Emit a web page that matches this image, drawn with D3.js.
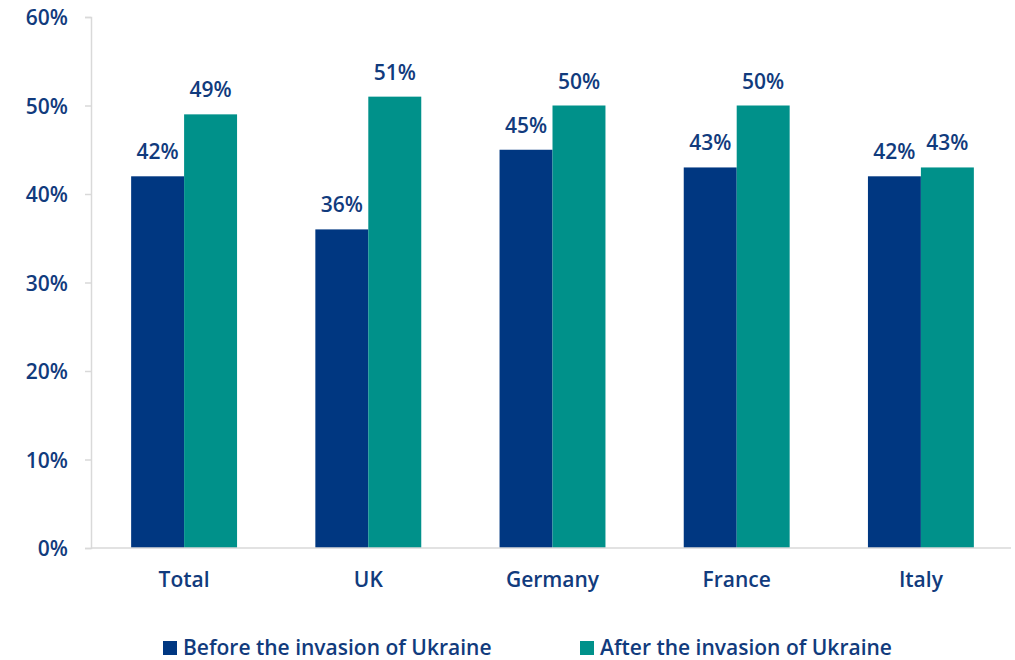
<!DOCTYPE html>
<html>
<head>
<meta charset="utf-8">
<script src="https://cdn.jsdelivr.net/npm/d3@7"></script>
<style>
  body { margin: 0; background: #fff; }
  svg { font-family: "Open Sans", "Noto Sans", sans-serif; font-weight: 600; }
</style>
</head>
<body>
<div id="chart"></div>
<script>
const width = 1015;
const height = 660;

// data
const categories = ["Total", "UK", "Germany", "France", "Italy"];
const series = ["Before the invasion of Ukraine", "After the invasion of Ukraine"];
const before = [42, 36, 45, 43, 42];
const after = [49, 51, 50, 50, 43];
const yTicks = [0, 10, 20, 30, 40, 50, 60];

const colors = ["#003781", "#00918a"];
const textColor = "#113b7d";
const fontSize = "21px";

const rows = categories.map((c, i) => ({ cat: c, values: [before[i], after[i]] }));

const x = d3.scaleBand()
  .domain(categories)
  .range([92, 1013])
  .paddingInner(0.425)
  .paddingOuter(0.2125);

const xs = d3.scaleBand()
  .domain(d3.range(series.length))
  .range([0, x.bandwidth()]);

const y = d3.scaleLinear()
  .domain([0, 60])
  .range([548, 17]);

const svg = d3.select("#chart").append("svg")
  .attr("width", width)
  .attr("height", height);

// y axis
const yAxis = svg.append("g")
  .attr("transform", "translate(91,0)")
  .call(d3.axisLeft(y).tickValues(yTicks).tickFormat(d => d + "%").tickSize(6).tickPadding(17))
  .attr("font-family", null)
  .attr("font-size", null);
yAxis.select(".domain").attr("stroke", "#d9d9d9").attr("stroke-width", 1.5);
yAxis.selectAll(".tick line").attr("stroke", "#d9d9d9").attr("stroke-width", 1.5);
yAxis.selectAll(".tick text")
  .attr("fill", textColor)
  .attr("dy", "0.36em")
  .style("font-size", fontSize);

// bars
const groups = svg.append("g")
  .selectAll("g")
  .data(rows)
  .join("g")
  .attr("transform", d => `translate(${x(d.cat)},0)`);

groups.selectAll("rect")
  .data(d => d.values)
  .join("rect")
  .attr("x", (d, i) => xs(i))
  .attr("width", xs.bandwidth())
  .attr("y", d => y(d))
  .attr("height", d => y(0) - y(d))
  .attr("fill", (d, i) => colors[i]);

groups.selectAll("text")
  .data(d => d.values)
  .join("text")
  .attr("x", (d, i) => xs(i) + xs.bandwidth() / 2)
  .attr("y", d => y(d) - 17)
  .attr("text-anchor", "middle")
  .attr("fill", textColor)
  .style("font-size", fontSize)
  .text(d => d + "%");

// baseline
svg.append("line")
  .attr("x1", 91).attr("x2", 1011)
  .attr("y1", y(0)).attr("y2", y(0))
  .attr("stroke", "#d9d9d9")
  .attr("stroke-width", 1.5);

// x labels
svg.append("g")
  .selectAll("text")
  .data(categories)
  .join("text")
  .attr("x", d => x(d) + x.bandwidth() / 2)
  .attr("y", 587)
  .attr("text-anchor", "middle")
  .attr("fill", textColor)
  .style("font-size", fontSize)
  .text(d => d);

// legend
const legendX = [163, 580];
const legend = svg.append("g")
  .selectAll("g")
  .data(series)
  .join("g")
  .attr("transform", (d, i) => `translate(${legendX[i]},641)`);

legend.append("rect")
  .attr("width", 14)
  .attr("height", 14)
  .attr("fill", (d, i) => colors[i]);

legend.append("text")
  .attr("x", 20)
  .attr("y", 13.5)
  .attr("fill", textColor)
  .style("font-size", fontSize)
  .text(d => d);
</script>
</body>
</html>
